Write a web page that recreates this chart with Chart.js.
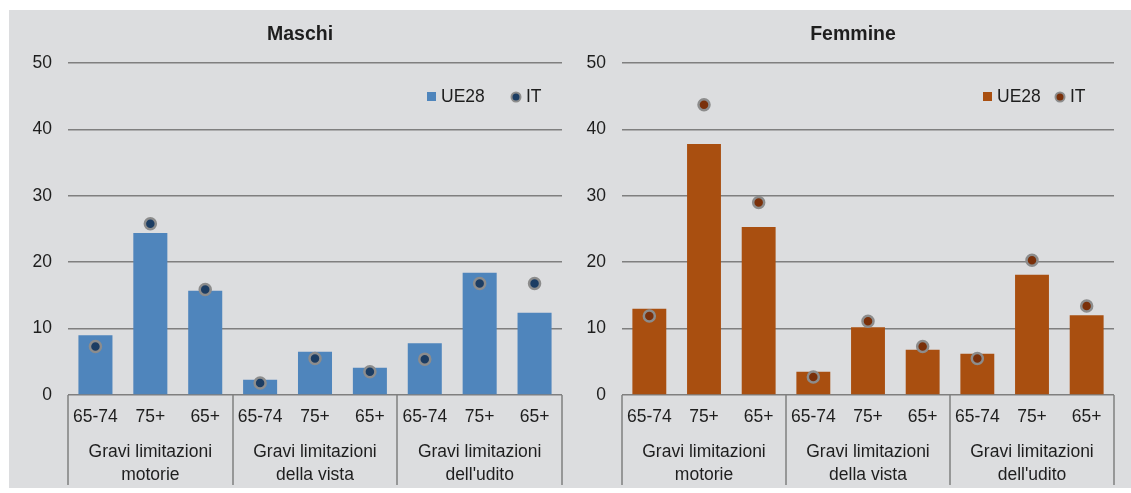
<!DOCTYPE html>
<html>
<head>
<meta charset="utf-8">
<script src="https://cdn.jsdelivr.net/npm/chart.js@4"></script>
<style>
  body{margin:0;background:#fff;width:1131px;height:493px;overflow:hidden;position:relative;font-family:'Liberation Sans',Arial,sans-serif}
  #bg{position:absolute;left:9px;top:10px;width:1122px;height:478px;background:#dcdddf}
  canvas{position:absolute;top:10px}
</style>
</head>
<body>
<div id="bg"></div>
<canvas id="maschi" width="557" height="478" style="left:9px"></canvas>
<canvas id="femmine" width="565" height="478" style="left:566px"></canvas>
<script>
// categorie e gruppi
const categories = ['65-74','75+','65+','65-74','75+','65+','65-74','75+','65+']
const groups = [['Gravi limitazioni','motorie'],['Gravi limitazioni','della vista'],['Gravi limitazioni',"dell'udito"]]
const seriesNames = ['UE28','IT']

// valori
const maschiUE28 = [9.0,24.4,15.7, 2.3,6.5,4.1, 7.8,18.4,12.4]
const maschiIT   = [7.3,25.8,15.9, 1.8,5.5,3.5, 5.4,16.8,16.8]
const femmineUE28 = [13.0,37.8,25.3, 3.5,10.2,6.8, 6.2,18.1,12.0]
const femmineIT   = [11.9,43.7,29.0, 2.7,11.1,7.3, 5.5,20.3,13.4]

const yMin = 0, yMax = 50, yStep = 10

const FONT = "'Liberation Sans', Arial, sans-serif"
const TXT = '#1e1e1e'
const GRID = '#7f7f7f'

// disegna titolo, legenda ed etichette a due livelli
const decor = {
  id:'decor',
  afterDraw(chart, args, o){
    const ctx = chart.ctx
    const ca = chart.chartArea
    const xs = chart.scales.x
    ctx.save()
    // titolo
    ctx.fillStyle = TXT
    ctx.font = 'bold 19.5px ' + FONT
    ctx.textAlign = 'center'
    ctx.textBaseline = 'middle'
    ctx.fillText(o.title, (ca.left+ca.right)/2 - 15, 25)

    // legenda
    ctx.font = '17.5px ' + FONT
    ctx.textAlign = 'left'
    ctx.fillStyle = o.barColor
    ctx.fillRect(o.legX, 82, 9, 9)
    ctx.fillStyle = TXT
    ctx.fillText(seriesNames[0], o.legX+14, 87)
    ctx.beginPath()
    ctx.arc(o.dotX, 87, 4.5, 0, Math.PI*2)
    ctx.fillStyle = o.dotColor
    ctx.fill()
    ctx.lineWidth = 2
    ctx.strokeStyle = '#8c8c8c'
    ctx.stroke()
    ctx.fillStyle = TXT
    ctx.fillText(seriesNames[1], o.dotX+10, 87)

    // etichette categorie
    ctx.textAlign = 'center'
    categories.forEach((c,i)=>{
      ctx.fillText(c, xs.getPixelForValue(i), 407)
    })
    // etichette gruppi
    const step = (xs.right - xs.left)/categories.length
    groups.forEach((g,j)=>{
      const cx = xs.left + step*(j*3+1.5)
      ctx.fillText(g[0], cx, 442)
      ctx.fillText(g[1], cx, 465)
    })
    // separatori
    ctx.strokeStyle = GRID
    ctx.lineWidth = 1.5
    for(let k=0;k<=groups.length;k++){
      const x = Math.round(xs.left + step*k*3)
      ctx.beginPath()
      ctx.moveTo(x, ca.bottom)
      ctx.lineTo(x, 475)
      ctx.stroke()
    }
    ctx.restore()
  }
}

function makeChart(id, ue, it, barColor, dotColor, axisW, padRight, deco){
  return new Chart(document.getElementById(id),{
    type:'bar',
    data:{
      labels:categories,
      datasets:[
        {type:'line', label:'IT', data:it, showLine:false,
         pointRadius:5.5, pointHoverRadius:5.5, pointBackgroundColor:dotColor,
         pointBorderColor:'#8c8c8c', pointBorderWidth:2.5, order:0},
        {type:'bar', label:'UE28', data:ue, backgroundColor:barColor,
         categoryPercentage:1, barPercentage:0.62, order:1}
      ]
    },
    options:{
      responsive:false,
      animation:false,
      layout:{autoPadding:false, padding:{top:53,bottom:93,left:0,right:padRight}},
      plugins:{legend:{display:false}, tooltip:{enabled:false}, decor:deco},
      scales:{
        x:{display:false, offset:true},
        y:{min:yMin, max:yMax,
           afterFit(s){ s.width = axisW },
           border:{display:false},
           grid:{color:GRID, lineWidth:1.5, drawTicks:false},
           ticks:{stepSize:yStep, padding:16, color:TXT, font:{family:FONT, size:17.5}}}
      }
    },
    plugins:[decor]
  })
}

makeChart('maschi', maschiUE28, maschiIT, '#4f85bc', '#1c3d63', 59, 4,
  {title:'Maschi', barColor:'#4f85bc', dotColor:'#1c3d63', legX:418, dotX:507})
makeChart('femmine', femmineUE28, femmineIT, '#a94f10', '#7a300a', 56, 17,
  {title:'Femmine', barColor:'#a94f10', dotColor:'#7a300a', legX:417, dotX:494})
</script>
</body>
</html>
